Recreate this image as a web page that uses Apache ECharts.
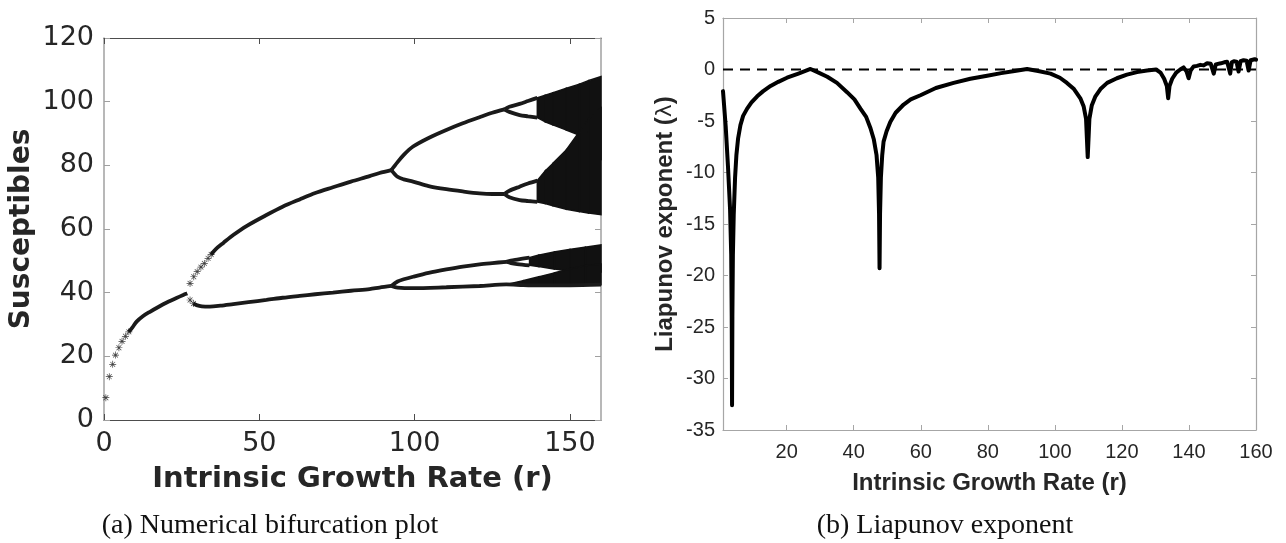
<!DOCTYPE html>
<html><head><meta charset="utf-8">
<script src="https://cdn.jsdelivr.net/npm/echarts@6/dist/echarts.min.js"></script>
<style>html,body{margin:0;padding:0;background:#fff}#c{width:1286px;height:543px}</style>
</head><body><div id="c"></div>
<script>
// ---------- (a) bifurcation plot: values ----------
const isolatedIterates = [[0.6,7.0],[1.7,13.6],[2.8,17.5],[3.7,20.4],[4.8,22.7],[5.8,24.7],[6.9,26.3],[8.0,27.7],
  [27.7,42.9],[28.9,45.0],[30.0,46.6],[31.2,48.0],[32.3,49.2],[33.5,50.8],[34.5,52.0],[27.7,37.7],[28.8,36.6]];
const period1 = [[8.0,27.7],[9.1,29.0],[10.5,30.9],[12.5,32.6],[14.8,34.0],[17.5,35.5],[20.2,36.9],[23.5,38.4],[26.8,39.8]];
const period2Upper = [[34.5,52.0],[36,53.7],[38.5,55.7],[41.6,58.1],[46,61.0],[52.3,64.4],[57.5,67.0],[63,69.3],[68,71.3],[73.7,73.1],[79.5,74.9],[85.5,76.6],[88.7,77.6],[92.5,78.5]];
const period2Lower = [[28.8,36.6],[29.8,36.1],[31.5,35.7],[34.1,35.6],[37.5,35.9],[41.6,36.4],[46.5,37.0],[52.3,37.7],[57.5,38.4],[63,39.0],[68,39.5],[73.7,40.0],[79.5,40.6],[85.5,41.1],[88.7,41.6],[92.5,42.1]];
const period4A = [[92.5,78.5],[94.5,81.0],[96.5,83.3],[99.5,85.9],[104.5,88.6],[110.2,91.1],[115.5,93.2],[120.9,95.1],[125,96.5],[128.9,97.6]];
const period4B = [[92.5,78.5],[94.5,76.4],[96.5,75.6],[99.5,74.9],[104.5,73.5],[110.2,72.5],[115.5,71.8],[120.9,71.2],[125,71.0],[128.9,71.0]];
const period4C = [[92.5,42.1],[94.5,43.5],[96.5,44.2],[99.5,45.0],[104.5,46.2],[110.2,47.3],[115.5,48.2],[120.9,48.9],[125,49.3],[129.5,49.7]];
const period4D = [[92.5,42.1],[94.5,41.6],[99.5,41.4],[110.2,41.7],[120.9,42.1],[129.5,42.6],[135,42.4],[140,42.3],[150,42.3],[160,42.5]];
const period8A1 = [[128.9,97.6],[130.5,98.4],[133.8,99.3],[136.5,100.2],[139.5,101.2]];
const period8A2 = [[128.9,97.6],[130.5,96.8],[133.8,95.8],[136.5,95.4],[139.5,95.0]];
const period8B1 = [[128.9,71.0],[130.5,72.0],[133.8,73.3],[136.5,74.3],[139.5,75.2]];
const period8B2 = [[128.9,71.0],[130.5,70.0],[133.8,69.1],[136.5,68.8],[139.5,68.5]];
const period8C1 = [[129.5,49.7],[131,50.1],[133,50.4],[137,51.0]];
const period8C2 = [[129.5,49.7],[131,49.3],[133,49.0],[137,48.6]];
// chaotic bands: [r, lowest S, highest S]
const chaosBandTop = [[139.5,95.0,101.2],[142,93.7,102.0],[144.5,92.7,102.8],[148.8,91.1,104.2],[153,89.5,105.5],[156,86,106.6],[160,82,107.9]];
const chaosBandHigh = [[139.5,68.5,75.2],[142,68.0,78.2],[144.5,67.3,80.6],[148.8,66.2,84.8],[153,65.5,90.5],[156,65.0,94.5],[160,64.5,98]];
const chaosBandMid = [[137,48.6,51.0],[140,48.2,51.8],[145,47.4,52.8],[150,46.8,53.6],[155,46.5,54.3],[160,46.5,55.0]];
const chaosBandLow = [[130.5,42.5,42.8],[135,42.4,43.8],[140,42.3,45.0],[145,42.3,46.2],[150,42.3,47.5],[155,42.3,48.5],[160,42.5,49.0]];
const xTicksA = [0,50,100,150];

// ---------- (b) Liapunov exponent ----------
const liapunov = [
[1.0,-2.1],[1.8,-5.5],[2.5,-9.5],[3.1,-13.5],[3.45,-18],[3.6,-24],[3.7,-32.6],[3.8,-24],[3.95,-18],[4.2,-14.1],[4.6,-10.5],[5.0,-8.3],[5.5,-6.7],[6.2,-5.4],[7.0,-4.5],[8.2,-3.8],[9.5,-3.2],[11.2,-2.6],[13,-2.1],[15.2,-1.6],[17.5,-1.2],[20.1,-0.8],[23.5,-0.4],[27.1,0.05],
[29.5,-0.3],[32.1,-0.7],[35,-1.3],[38.0,-2.2],[40.2,-2.9],[42,-3.8],[43.7,-4.6],[45,-5.7],[46,-6.8],[46.8,-8.3],[47.3,-10.5],[47.55,-14],[47.7,-19.3],[47.85,-14],[48.1,-10.5],[48.5,-8.3],[48.9,-7.0],[49.8,-6.0],[50.9,-5.1],[52.5,-4.2],[54.9,-3.4],[57,-2.9],[59.9,-2.5],[64.5,-1.8],[69.8,-1.3],[74.8,-0.9],[79.8,-0.6],[84,-0.35],[88,-0.15],[91.7,0.05],
[95,-0.15],[98.7,-0.4],[101.5,-0.8],[103.6,-1.3],[105.7,-1.9],[107.6,-2.8],[108.6,-3.6],[109.3,-4.8],[109.8,-8.5],[110.3,-4.8],[111,-3.5],[112.1,-2.6],[113.6,-1.9],[115.6,-1.3],[118.5,-0.85],[121.5,-0.5],[124.5,-0.25],[127.5,-0.1],[130.2,0.0],
[131.5,-0.3],[132.6,-0.9],[133.4,-1.6],[133.8,-2.8],[134.2,-1.6],[135,-0.9],[136.2,-0.3],[137.4,0.0],[138.4,0.2],[139.3,-0.2],[139.9,-0.85],[140.5,-0.1],[141.4,0.3],[142.4,0.35],[143.4,0.45],[144.4,0.4],[145.4,0.6],[146.5,0.55],[147.4,-0.4],[148.0,0.5],[148.4,0.6],[149.5,0.6],[150.5,0.7],[151.4,0.75],[152.3,-0.4],[152.8,0.7],[153.4,0.8],[154.2,0.75],[154.8,-0.2],[155.4,0.8],[156.3,0.9],[157.2,0.85],[157.8,-0.1],[158.4,0.9],[159.6,1.0],[160,0.95]];
const zeroLevel = [[1,0],[160,0]];
const xTicksB = [20,40,60,80,100,120,140,160];

// ---------- chart ----------
const chart = echarts.init(document.getElementById('c'), null, {renderer:'canvas'});
const INK = '#111';
const SANS_A = 'DejaVu Sans';
const SANS_B = 'Liberation Sans';
const LABEL = '#262626';
const asterisk = 'path://M4.5,0h1v10h-1z M0,4.5h10v1h-10z M1.2,1.9L1.9,1.2L8.8,8.1L8.1,8.8z M8.1,1.2L8.8,1.9L1.9,8.8L1.2,8.1z';

function branch(d){
  return {type:'line', xAxisIndex:0, yAxisIndex:0, data:d, symbol:'none', smooth:0.3,
    lineStyle:{color:'#1a1a1a', width:3.8}, z:3, silent:true};
}
function band(d){
  return {type:'custom', xAxisIndex:0, yAxisIndex:0, data:d, z:2, silent:true,
    encode:{x:0, y:[1,2]},
    renderItem:function(params, api){
      const i = params.dataIndex;
      if (i >= d.length-1) return null;
      const a = d[i], b = d[i+1];
      const pts = [api.coord([a[0],a[1]]), api.coord([b[0],b[1]]), api.coord([b[0],b[2]]), api.coord([a[0],a[2]])];
      return {type:'polygon', shape:{points:pts}, style:{fill:INK, stroke:INK, lineWidth:1.5}};
    }};
}

const axA_lineDark = {show:true, onZero:false, lineStyle:{color:'#4d4d4d', width:1}};
const axA_lineGray = {show:true, onZero:false, lineStyle:{color:'#a0a0a0', width:1.5}};
const axB_line = {show:true, onZero:false, lineStyle:{color:'#a6a6a6', width:1.2}};

const option = {
  animation:false,
  backgroundColor:'#fff',
  grid:[
    {left:104, top:38, width:497, height:382},
    {left:723, top:18, width:533, height:412}
  ],
  xAxis:[
    {gridIndex:0, type:'value', min:0, max:160, position:'bottom',
     axisLine:axA_lineDark, splitLine:{show:false},
     axisTick:{inside:true, length:6, customValues:xTicksA, lineStyle:{color:'#4d4d4d'}},
     axisLabel:{customValues:xTicksA, fontFamily:SANS_A, fontSize:27, color:LABEL, margin:10},
     name:'Intrinsic Growth Rate (r)', nameLocation:'middle', nameGap:45,
     nameTextStyle:{fontFamily:SANS_A, fontWeight:'bold', fontSize:29, color:LABEL}},
    {gridIndex:0, type:'value', min:0, max:160, position:'top',
     axisLine:axA_lineDark, splitLine:{show:false},
     axisTick:{inside:true, length:6, customValues:xTicksA, lineStyle:{color:'#4d4d4d'}},
     axisLabel:{show:false}},
    {gridIndex:1, type:'value', min:1, max:160, position:'bottom',
     axisLine:axB_line, splitLine:{show:false},
     axisTick:{inside:true, length:5, customValues:xTicksB, lineStyle:{color:'#a6a6a6'}},
     axisLabel:{customValues:xTicksB, fontFamily:SANS_B, fontSize:20, color:LABEL, margin:12},
     name:'Intrinsic Growth Rate (r)', nameLocation:'middle', nameGap:41,
     nameTextStyle:{fontFamily:SANS_B, fontWeight:'bold', fontSize:24, color:LABEL}},
    {gridIndex:1, type:'value', min:1, max:160, position:'top',
     axisLine:axB_line, splitLine:{show:false},
     axisTick:{inside:true, length:5, customValues:xTicksB, lineStyle:{color:'#a6a6a6'}},
     axisLabel:{show:false}}
  ],
  yAxis:[
    {gridIndex:0, type:'value', min:0, max:120, interval:20, position:'left',
     axisLine:axA_lineGray, splitLine:{show:false},
     axisTick:{inside:true, length:6, lineStyle:{color:'#a0a0a0'}},
     axisLabel:{fontFamily:SANS_A, fontSize:27, color:LABEL, margin:10},
     name:'Susceptibles', nameLocation:'middle', nameGap:68, nameRotate:90,
     nameTextStyle:{fontFamily:SANS_A, fontWeight:'bold', fontSize:28, color:LABEL}},
    {gridIndex:0, type:'value', min:0, max:120, interval:20, position:'right',
     axisLine:axA_lineGray, splitLine:{show:false},
     axisTick:{inside:true, length:6, lineStyle:{color:'#a0a0a0'}},
     axisLabel:{show:false}},
    {gridIndex:1, type:'value', min:-35, max:5, interval:5, position:'left',
     axisLine:axB_line, splitLine:{show:false},
     axisTick:{inside:true, length:5, lineStyle:{color:'#a6a6a6'}},
     axisLabel:{fontFamily:SANS_B, fontSize:20, color:LABEL, margin:8},
     name:'{b|Liapunov exponent (}{l|λ}{b|)}', nameLocation:'middle', nameGap:46, nameRotate:90,
     nameTextStyle:{rich:{
       b:{fontFamily:SANS_B, fontWeight:'bold', fontSize:24, color:LABEL},
       l:{fontFamily:'DejaVu Sans', fontWeight:'normal', fontSize:22, color:LABEL}}}},
    {gridIndex:1, type:'value', min:-35, max:5, interval:5, position:'right',
     axisLine:axB_line, splitLine:{show:false},
     axisTick:{inside:true, length:5, lineStyle:{color:'#a6a6a6'}},
     axisLabel:{show:false}}
  ],
  series:[
    band(chaosBandTop), band(chaosBandHigh), band(chaosBandMid), band(chaosBandLow),
    branch(period1), branch(period2Upper), branch(period2Lower),
    branch(period4A), branch(period4B), branch(period4C), branch(period4D),
    branch(period8A1), branch(period8A2), branch(period8B1), branch(period8B2),
    branch(period8C1), branch(period8C2),
    {type:'scatter', xAxisIndex:0, yAxisIndex:0, data:isolatedIterates, symbol:asterisk, symbolSize:7,
     itemStyle:{color:'#111'}, z:4, silent:true},
    {type:'line', xAxisIndex:2, yAxisIndex:2, data:zeroLevel, symbol:'none',
     lineStyle:{color:'#000', width:2.2, type:[10,7]}, z:2, silent:true},
    {type:'line', xAxisIndex:2, yAxisIndex:2, data:liapunov, symbol:'none', smooth:false,
     lineStyle:{color:'#000', width:4, join:'round', cap:'round'}, z:3, silent:true}
  ],
  graphic:[
    {type:'text', x:270, y:526, style:{text:'(a) Numerical bifurcation plot', fontFamily:'Liberation Serif', fontSize:28, fill:'#111', align:'center', verticalAlign:'middle'}},
    {type:'text', x:945, y:526, style:{text:'(b) Liapunov exponent', fontFamily:'Liberation Serif', fontSize:28, fill:'#111', align:'center', verticalAlign:'middle'}}
  ]
};
chart.setOption(option);
</script></body></html>
